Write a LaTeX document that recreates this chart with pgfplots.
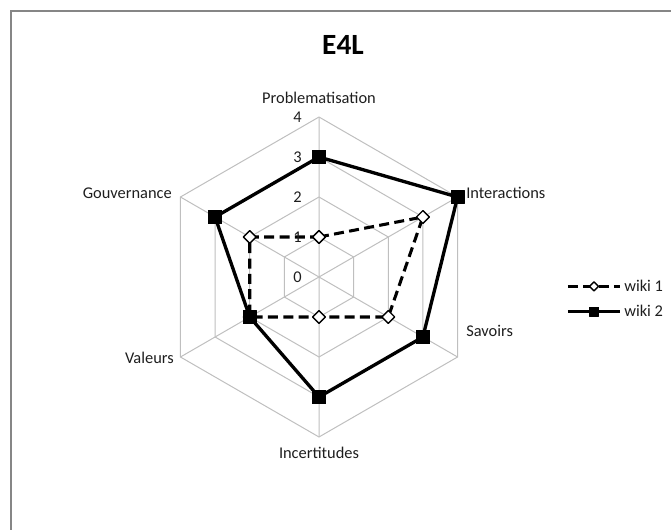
\documentclass[border=0pt]{standalone}
\usepackage{fontspec}
\setmainfont{Carlito}
\usepackage{pgfplots}
\pgfplotsset{compat=1.18}
\usepgfplotslibrary{polar}
\definecolor{gridgray}{RGB}{191,191,191}
\definecolor{framegray}{RGB}{134,134,134}
\definecolor{labtext}{RGB}{30,30,30}
\newcommand{\lab}{\fontsize{12.3}{14}\selectfont\color{labtext}}

\begin{document}
\begin{tikzpicture}
\path[use as bounding box] (0,0) rectangle (503.25pt,-397.5pt);
\begin{scope}[x=0.75pt,y=-0.75pt]
\draw[framegray, line width=1.4pt] (11,545) -- (11,11) -- (690,11);
\end{scope}

\begin{polaraxis}[
  at={(239.25pt,-207.75pt)}, anchor=center,
  scale only axis, width=240pt, height=240pt,
  hide axis, ymin=0, ymax=4, xmin=0, xmax=360,
  clip=false,
  legend style={at={(1.272,0.431)}, anchor=west, draw=none, fill=none,
    inner sep=0pt, font=\lab, row sep=5pt, legend cell align=left,
    /tikz/every even column/.append style={column sep=1pt}},
  legend image code/.code={%
    \draw[mark repeat=2, mark phase=2, #1, every mark/.append style={scale=0.7}]
      plot coordinates {(0pt,0pt)(19.5pt,0pt)(39pt,0pt)};},
]
% grid rings
\addplot[gridgray, line width=0.75pt, no marks, forget plot] coordinates {(90,1)(30,1)(-30,1)(-90,1)(-150,1)(150,1)(90,1)};
\addplot[gridgray, line width=0.75pt, no marks, forget plot] coordinates {(90,2)(30,2)(-30,2)(-90,2)(-150,2)(150,2)(90,2)};
\addplot[gridgray, line width=0.75pt, no marks, forget plot] coordinates {(90,3)(30,3)(-30,3)(-90,3)(-150,3)(150,3)(90,3)};
\addplot[gridgray, line width=0.75pt, no marks, forget plot] coordinates {(90,4)(30,4)(-30,4)(-90,4)(-150,4)(150,4)(90,4)};
% spokes
\addplot[gridgray, line width=0.75pt, no marks, forget plot] coordinates {(90,4)(90,0)(30,4)};
\addplot[gridgray, line width=0.75pt, no marks, forget plot] coordinates {(-30,4)(-30,0)(-90,4)};
\addplot[gridgray, line width=0.75pt, no marks, forget plot] coordinates {(-150,4)(-150,0)(150,4)};

% wiki 1
\addplot[black, line width=2.3pt, line join=round, dash pattern=on 7.5pt off 4pt,
  mark=square*, mark size=3.4pt,
  mark options={rotate=45, fill=white, draw=black, solid, line width=1pt}]
  coordinates {(90,1)(30,3)(-30,2)(-90,1)(-150,2)(150,2)(90,1)};
% wiki 2
\addplot[black, line width=2.5pt, line join=round,
  mark=square*, mark size=5pt,
  mark options={solid, fill=black, line width=0.5pt}]
  coordinates {(90,3)(30,4)(-30,3)(-90,3)(-150,2)(150,3)(90,3)};
\legend{wiki 1, wiki 2}
\end{polaraxis}

\begin{scope}[x=0.75pt,y=-0.75pt]
\node[font=\fontsize{22}{26}\selectfont\bfseries] at (343,45) {E4L};
\node[font=\lab] at (319,98) {Problematisation};
\node[font=\lab, anchor=west, inner sep=0pt] at (466,193) {Interactions};
\node[font=\lab, anchor=west, inner sep=0pt] at (466,331) {Savoirs};
\node[font=\lab] at (319,453) {Incertitudes};
\node[font=\lab, anchor=east, inner sep=0pt] at (174,358) {Valeurs};
\node[font=\lab, anchor=east, inner sep=0pt] at (172,193) {Gouvernance};
\foreach \v/\yy in {4/117,3/157,2/197,1/237,0/277}
  \node[font=\lab, anchor=east, inner sep=0pt] at (302,\yy) {\v};
\end{scope}
\end{tikzpicture}
\end{document}
